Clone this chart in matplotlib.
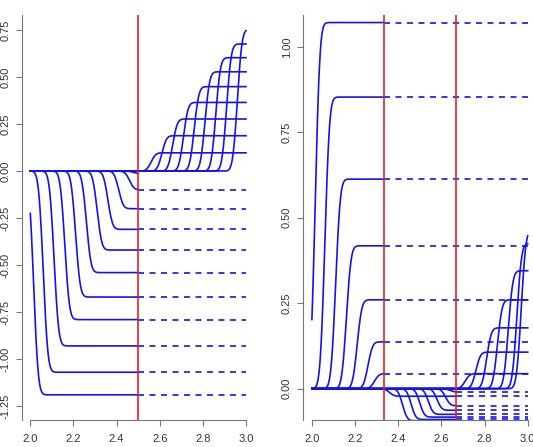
import math
import numpy as np
import matplotlib
matplotlib.use("Agg")
import matplotlib.pyplot as plt
from matplotlib.ticker import FormatStrFormatter

plt.rcParams['font.family'] = ['Liberation Sans', 'DejaVu Sans']

# ---- data ----
x_lo, x_hi = 2.0, 3.0

# left panel: one switch
left_switch = 2.5
left_neg_corner = [2.055, 2.10, 2.15, 2.20, 2.25, 2.30, 2.35, 2.40, 2.45, 2.50, 2.52]
left_neg_level = [-1.19, -1.07, -0.93, -0.79, -0.67, -0.54, -0.42, -0.31, -0.20, -0.10, -0.015]
left_neg_dashed = [True, True, True, True, True, True, True, True, True, True, False]
left_pos_corner = [2.60, 2.65, 2.70, 2.75, 2.80, 2.85, 2.90, 2.95, 3.00]
left_pos_level = [0.097, 0.188, 0.277, 0.365, 0.449, 0.528, 0.603, 0.676, 0.754]

# right panel: two switches
right_switch = [7 / 3, 8 / 3]
right_a_corner = [2.055, 2.10, 2.15, 2.20, 2.25, 2.30, 2.33]
right_a_level = [1.071, 0.853, 0.613, 0.418, 0.260, 0.137, 0.044]
right_b_corner = [2.40, 2.46, 2.50, 2.54, 2.58, 2.62, 2.66, 2.68]
right_b_level = [-0.022, -0.0935, -0.090, -0.083, -0.075, -0.063, -0.050, -0.0097]
right_c_corner = [2.75, 2.80, 2.85, 2.90, 2.95, 2.99, 3.01]
right_c_level = [0.044, 0.107, 0.178, 0.260, 0.345, 0.425, 0.465]

left_yticks = [-1.25, -1.00, -0.75, -0.50, -0.25, 0.00, 0.25, 0.50, 0.75]
right_yticks = [0.00, 0.25, 0.50, 0.75, 1.00]
xticks = [2.0, 2.2, 2.4, 2.6, 2.8, 3.0]

BLUE = '#1414e6'
RED = '#f01e1e'
AXC = '#777777'
TXC = '#333333'
LW = 1.2
DASH = (0, (3.6, 3.3))

erf = np.vectorize(math.erf)
xs = np.linspace(x_lo, x_hi, 1001)


def step(x, corner, level):
    # rounded step, flat at `level` from `corner` on
    z = (np.asarray(x, dtype=float) - (corner - 0.04)) / 0.017
    return level * 0.5 * (1 + erf(z / math.sqrt(2)))


def draw_group(ax, corners, levels, solid_to, dashed=None):
    for i, (c, lv) in enumerate(zip(corners, levels)):
        xx = np.append(xs[xs < solid_to], solid_to)
        ax.plot(xx, step(xx, c, lv), color=BLUE, lw=LW, zorder=2)
        if solid_to < x_hi and (dashed is None or dashed[i]):
            yend = float(step(solid_to, c, lv))
            ax.plot([solid_to, x_hi], [yend, yend], color=BLUE, lw=LW,
                    ls=DASH, zorder=2)


def style(ax, ylim, yticks):
    ax.set_xlim(1.96, 3.04)
    ax.set_ylim(*ylim)
    for s in ['top', 'right']:
        ax.spines[s].set_visible(False)
    ax.spines['left'].set_color(AXC)
    ax.spines['bottom'].set_color(AXC)
    ax.spines['bottom'].set_bounds(x_lo, x_hi)
    ax.set_xticks(xticks)
    ax.set_yticks(yticks)
    ax.xaxis.set_major_formatter(FormatStrFormatter('%.1f'))
    ax.yaxis.set_major_formatter(FormatStrFormatter('%.2f'))
    ax.tick_params(axis='both', colors=AXC, labelcolor=TXC, labelsize=8,
                   length=4.3, width=0.8)
    ax.tick_params(axis='x', pad=6)
    ax.tick_params(axis='y', labelrotation=90, pad=4)
    for lab in ax.get_yticklabels():
        lab.set_verticalalignment('center')


fig = plt.figure(figsize=(5.33, 4.47), dpi=100)

# left panel
ax1 = fig.add_axes([0.0407, 0.0604, 0.437, 0.906])
draw_group(ax1, left_neg_corner, left_neg_level, left_switch, left_neg_dashed)
draw_group(ax1, left_pos_corner, left_pos_level, x_hi)
ax1.axvline(left_switch, color=RED, lw=LW, zorder=3)
style(ax1, (-1.324, 0.830), left_yticks)

# right panel
ax2 = fig.add_axes([0.569, 0.0604, 0.4372, 0.906])
draw_group(ax2, right_a_corner, right_a_level, right_switch[0])
draw_group(ax2, right_b_corner, right_b_level, right_switch[1])
draw_group(ax2, right_c_corner, right_c_level, x_hi)
for sx in right_switch:
    ax2.axvline(sx, color=RED, lw=LW, zorder=3)
style(ax2, (-0.0915, 1.093), right_yticks)

fig.savefig('out.png', dpi=100)
